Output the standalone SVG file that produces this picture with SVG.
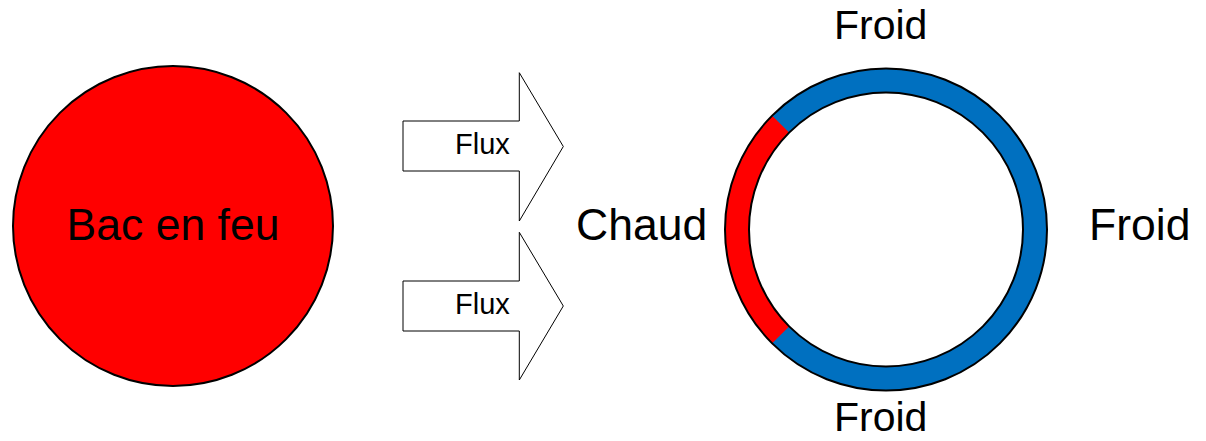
<svg xmlns="http://www.w3.org/2000/svg" width="1206" height="441" viewBox="0 0 1206 441">
<style>
text{font-family:"Liberation Sans",Arial,sans-serif;fill:#000}
.big{font-size:44.5px}
.mid{font-size:41px}
.flux{font-size:29px}
.arrow{fill:#fff;stroke:#000;stroke-width:1}
</style>
<rect width="1206" height="441" fill="#fff"/>
<g id="bac">
<circle cx="173" cy="226" r="160" fill="#ff0000" stroke="#000" stroke-width="2"/>
<text class="big" x="173" y="240" text-anchor="middle">Bac en feu</text>
</g>
<g id="connectors">
<g id="flux1">
<path class="arrow" d="M403,121 H519.3 V72.7 L563.3,146.5 L519.3,221 V171 H403 Z"/>
<text class="flux" x="455" y="154">Flux</text>
</g>
<g id="flux2">
<path class="arrow" d="M403,281 H519.3 V232.3 L563.3,306 L519.3,380 V331 H403 Z"/>
<text class="flux" x="455" y="314">Flux</text>
</g>
</g>
<g id="bac-voisin">
<path d="M1047,229.5 A161,161 0 1 1 725,229.5 A161,161 0 1 1 1047,229.5 Z M1023,229.5 A137,137 0 1 0 749,229.5 A137,137 0 1 0 1023,229.5 Z" fill="#0070c0" fill-rule="evenodd"/>
<path d="M772.2,115.7 A161,161 0 0 0 772.2,343.3 L789.1,326.4 A137,137 0 0 1 789.1,132.6 Z" fill="#ff0000"/>
<circle cx="886" cy="229.5" r="161" fill="none" stroke="#000" stroke-width="2"/>
<circle cx="886" cy="229.5" r="137" fill="none" stroke="#000" stroke-width="2"/>
</g>
<g id="labels">
<text class="mid" x="834" y="38.5">Froid</text>
<text class="mid" x="834" y="431">Froid</text>
<text class="big" x="1089" y="239.5">Froid</text>
<text class="big" x="576" y="240">Chaud</text>
</g>
</svg>
